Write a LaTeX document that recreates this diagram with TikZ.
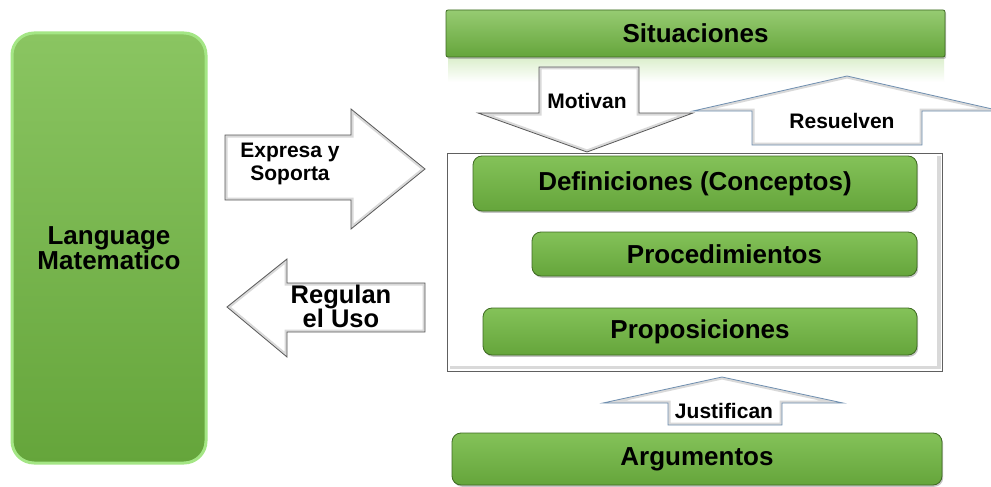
\documentclass[tikz,border=0pt]{standalone}
\usepackage{fontspec}
\setmainfont{Liberation Sans}
\usetikzlibrary{shadows}
\definecolor{gtop}{HTML}{84C259}
\definecolor{gbot}{HTML}{65A53B}
\definecolor{gedge}{HTML}{3E6A22}
\definecolor{lborder}{HTML}{A4E685}
\definecolor{bluish}{HTML}{6F8FB0}
\definecolor{refl}{HTML}{DCEFCD}
\newcommand\bevelarrow[2]{%
  \fill[white] #2;
  \begin{scope}\clip #2; \draw[line width=5pt, gray!30] #2; \end{scope}
  \draw[#1, line width=0.8pt, line join=miter] #2;}
\begin{document}
\begin{tikzpicture}[x=1pt,y=-1pt,
  gbox/.style={draw=gedge, line width=0.8pt, top color=gtop, bottom color=gbot,
    rounded corners=9pt, font=\bfseries\fontsize{26}{26}\selectfont, text=black,
    inner sep=0pt, drop shadow={shadow xshift=1.2pt, shadow yshift=-1.8pt, opacity=0.45}},
  atext/.style={font=\bfseries\fontsize{21}{21}\selectfont, text=black, align=center, inner sep=0pt},
  btext/.style={font=\bfseries\fontsize{25.5}{24}\selectfont, text=black, align=center, inner sep=0pt}]
\useasboundingbox (0,0) rectangle (991,487);
\fill[white] (0,0) rectangle (991,487);

% Language box
\node[draw=lborder, line width=3pt, top color=gtop!95!white, bottom color=gbot,
  rounded corners=22pt, minimum width=194pt, minimum height=430pt, inner sep=0pt,
  align=center, font=\bfseries\fontsize{26}{22}\selectfont, text=black]
  (lang) at (109,248) {Language\\Matematico};

% reflection under Situaciones
\fill[top color=refl, bottom color=white] (448,58) rectangle (944,82);

% Situaciones
\node[gbox, rounded corners=2pt, top color=gtop!85!white, minimum width=499pt, minimum height=47pt]
  (sit) at (695.5,33.5) {Situaciones};

% frame
\node[draw=gray!75!black, line width=1pt, fill=white, minimum width=495pt, minimum height=218pt,
  inner sep=0pt] (frame) at (694.5,262) {};
\fill[gray!30] (937,156) rectangle (941,368);
\fill[gray!30] (450,366) rectangle (941,369);

% inner boxes
\node[gbox, minimum width=444pt, minimum height=55pt] (def) at (695,183.5) {Definiciones (Conceptos)};
\node[gbox, minimum width=385pt, minimum height=44pt] (proc) at (724.5,254) {Procedimientos};
\node[gbox, minimum width=434pt, minimum height=47pt] (prop) at (700,331.5) {Proposiciones};

% Argumentos
\node[gbox, minimum width=490pt, minimum height=52pt] (arg) at (697,459) {Argumentos};

% block arrows
\coordinate (mtip) at (587,152);
\bevelarrow{gray!70!black}{(539,67) -- (639,67) -- (639,113) -- (693,113) -- (mtip) -- (478,113) -- (539,113) -- cycle}
\node[atext] (motivan) at (587,101) {Motivan};

\coordinate (rtip) at (847,76);
\bevelarrow{bluish}{(752,145) -- (752,111) -- (693,111) -- (rtip) -- (1001,111) -- (922,111) -- (922,145) -- cycle}
\node[atext] (resuelven) at (842,121) {Resuelven};

\coordinate (jtip) at (722,377);
\bevelarrow{bluish}{(668,425) -- (668,403) -- (603,403) -- (jtip) -- (843,403) -- (782,403) -- (782,425) -- cycle}
\node[atext] (justifican) at (724,411) {Justifican};

\coordinate (etip) at (425,169);
\bevelarrow{gray!70!black}{(225,135) -- (351,135) -- (351,109) -- (etip) -- (351,229) -- (351,200) -- (225,200) -- cycle}
\node[atext, font=\bfseries\fontsize{21}{23}\selectfont] (expresa) at (290,164) {Expresa y\\Soporta};

\coordinate (gtip) at (227,307);
\bevelarrow{gray!70!black}{(gtip) -- (287,259) -- (287,283) -- (425,283) -- (425,332) -- (287,332) -- (287,357) -- cycle}
\node[btext] (regulan) at (341,306) {Regulan\\el Uso};
\end{tikzpicture}
\end{document}
